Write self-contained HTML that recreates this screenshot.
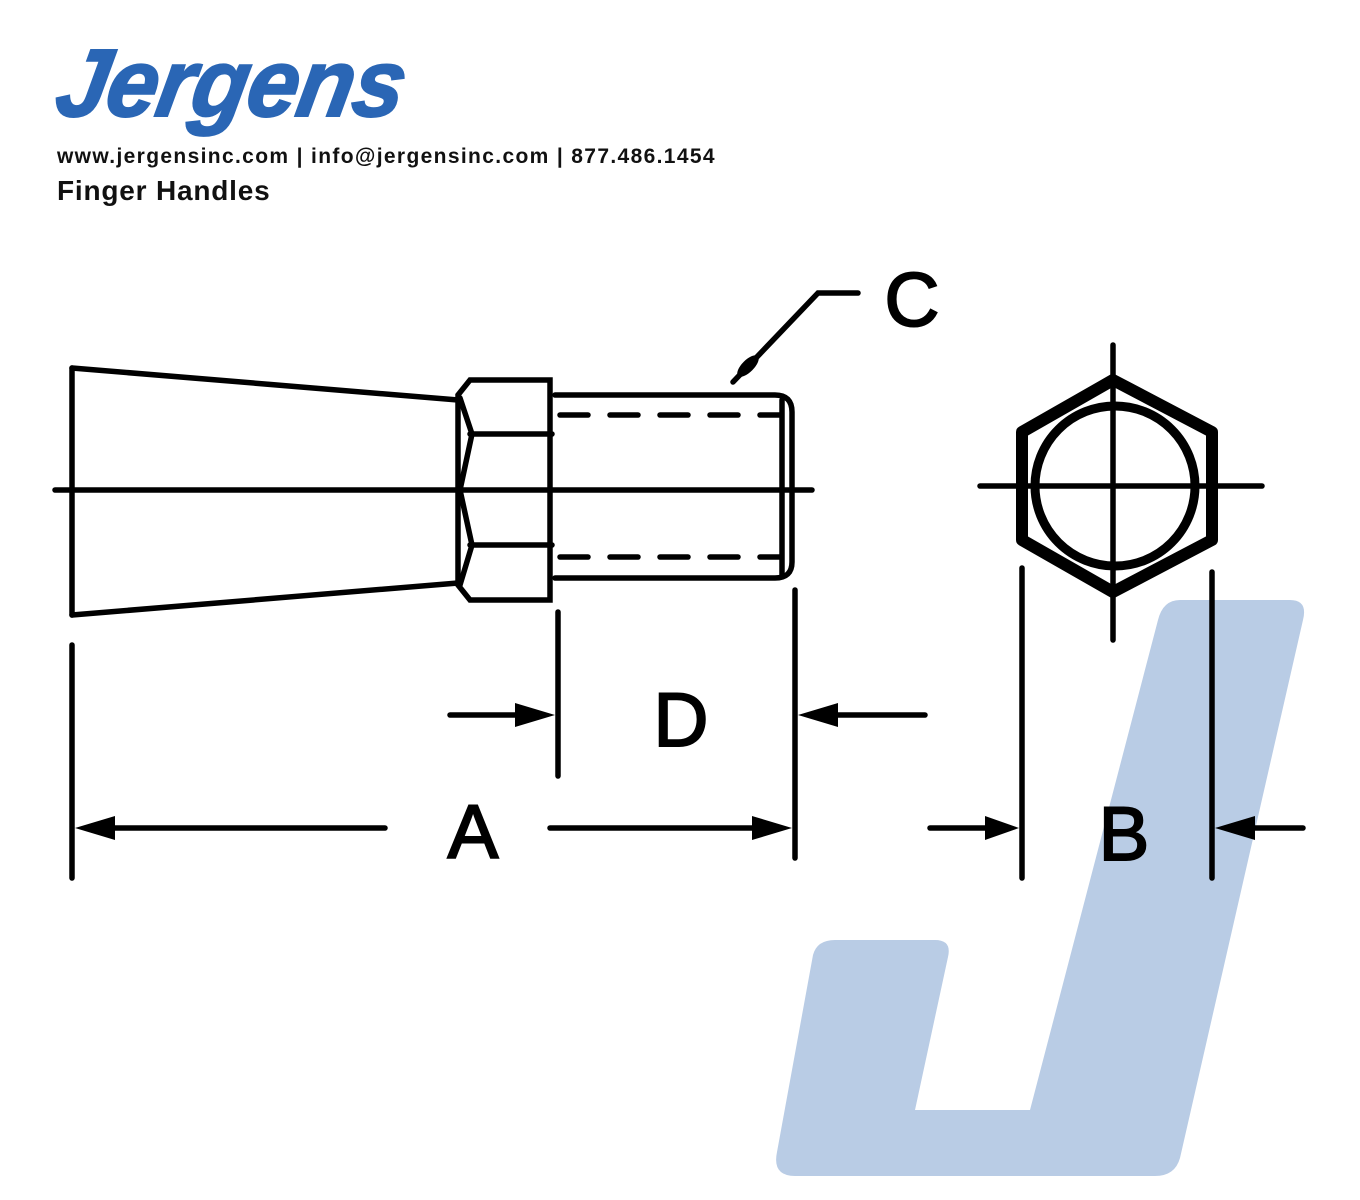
<!DOCTYPE html>
<html><head><style>
body{margin:0;width:1360px;height:1200px;background:#fff;overflow:hidden;position:relative;font-family:"Liberation Sans",sans-serif}
.logo{position:absolute;left:58px;top:36px;font-size:96px;font-weight:bold;font-style:italic;color:#2a66b5;letter-spacing:-1px;transform:skewX(-10deg) scaleX(0.96);transform-origin:left;line-height:1;-webkit-text-stroke:2px #2a66b5}
.t1{position:absolute;left:57px;top:145px;font-size:21px;letter-spacing:1.35px;font-weight:bold;color:#111}
.t2{position:absolute;left:57px;top:175px;font-size:28px;letter-spacing:0.8px;font-weight:bold;color:#111}
svg{position:absolute;left:0;top:0}
</style></head><body>
<div class="logo">Jergens</div>
<div class="t1">www.jergensinc.com | info@jergensinc.com | 877.486.1454</div>
<div class="t2">Finger Handles</div>
<svg width="1360" height="1200" viewBox="0 0 1360 1200">
<g stroke="#000" stroke-width="5.5" fill="none" stroke-linecap="round">
<line x1="72" y1="368" x2="72" y2="615"/>
<line x1="72" y1="368" x2="458" y2="400"/>
<line x1="72" y1="615" x2="458" y2="583"/>
<path d="M470 380 H550 V600 H470 L458 585 V395 Z"/>
<line x1="470" y1="434" x2="552" y2="434"/>
<line x1="470" y1="545" x2="552" y2="545"/>
<path d="M460 398 L472 434 L460 490 L472 545 L460 585"/>
<path d="M555 395 H775 Q792 395 792 412 V562 Q792 578 775 578 H555"/>
<line x1="782" y1="400" x2="782" y2="575"/>
<line x1="560" y1="415" x2="780" y2="415" stroke-dasharray="28,22"/>
<line x1="560" y1="557" x2="780" y2="557" stroke-dasharray="28,22"/>
<line x1="55" y1="490" x2="812" y2="490"/>
<path d="M733 382 L818 293 H858"/>
<line x1="558" y1="612" x2="558" y2="776"/>
<line x1="795" y1="590" x2="795" y2="858"/>
<line x1="450" y1="715" x2="520" y2="715"/>
<line x1="830" y1="715" x2="925" y2="715"/>
<line x1="72" y1="645" x2="72" y2="878"/>
<line x1="110" y1="828" x2="385" y2="828"/>
<line x1="550" y1="828" x2="760" y2="828"/>
<line x1="1022" y1="568" x2="1022" y2="878"/>
<line x1="1212" y1="572" x2="1212" y2="878"/>
<line x1="930" y1="828" x2="990" y2="828"/>
<line x1="1250" y1="828" x2="1303" y2="828"/>
<polygon points="1113,380 1212,432 1212,540 1113,592 1022,540 1022,432" stroke-width="12" stroke-linejoin="round"/>
<circle cx="1115" cy="486" r="80" stroke-width="9"/>
<line x1="1113" y1="345" x2="1113" y2="640"/>
<line x1="980" y1="486" x2="1262" y2="486"/>
</g>
<g fill="#000">
<polygon points="555,715 515,703 515,727"/>
<polygon points="798,715 838,703 838,727"/>
<polygon points="75,828 115,816 115,840"/>
<polygon points="792,828 752,816 752,840"/>
<polygon points="1019,828 985,816 985,840"/>
<polygon points="1215,828 1255,816 1255,840"/>
<ellipse cx="748" cy="366" rx="6" ry="14" transform="rotate(45 748 366)"/>
</g>
<g font-family="Liberation Sans,sans-serif" font-size="76" fill="#000" stroke="#000" stroke-width="2" text-anchor="middle">
<text x="912" y="326">C</text>
<text x="681" y="746">D</text>
<text x="473" y="858">A</text>
<text x="1124" y="860">B</text>
</g>
<path d="M1180 600 H1290 Q1308 600 1303 620 L1180 1158 Q1175 1176 1155 1176 H795 Q772 1176 777 1152 L813 955 Q817 940 835 940 H935 Q952 940 948 957 L915 1110 H1030 L1158 620 Q1163 600 1180 600 Z" fill="#b9cce5" style="mix-blend-mode:multiply"/>
</svg>
</body></html>
